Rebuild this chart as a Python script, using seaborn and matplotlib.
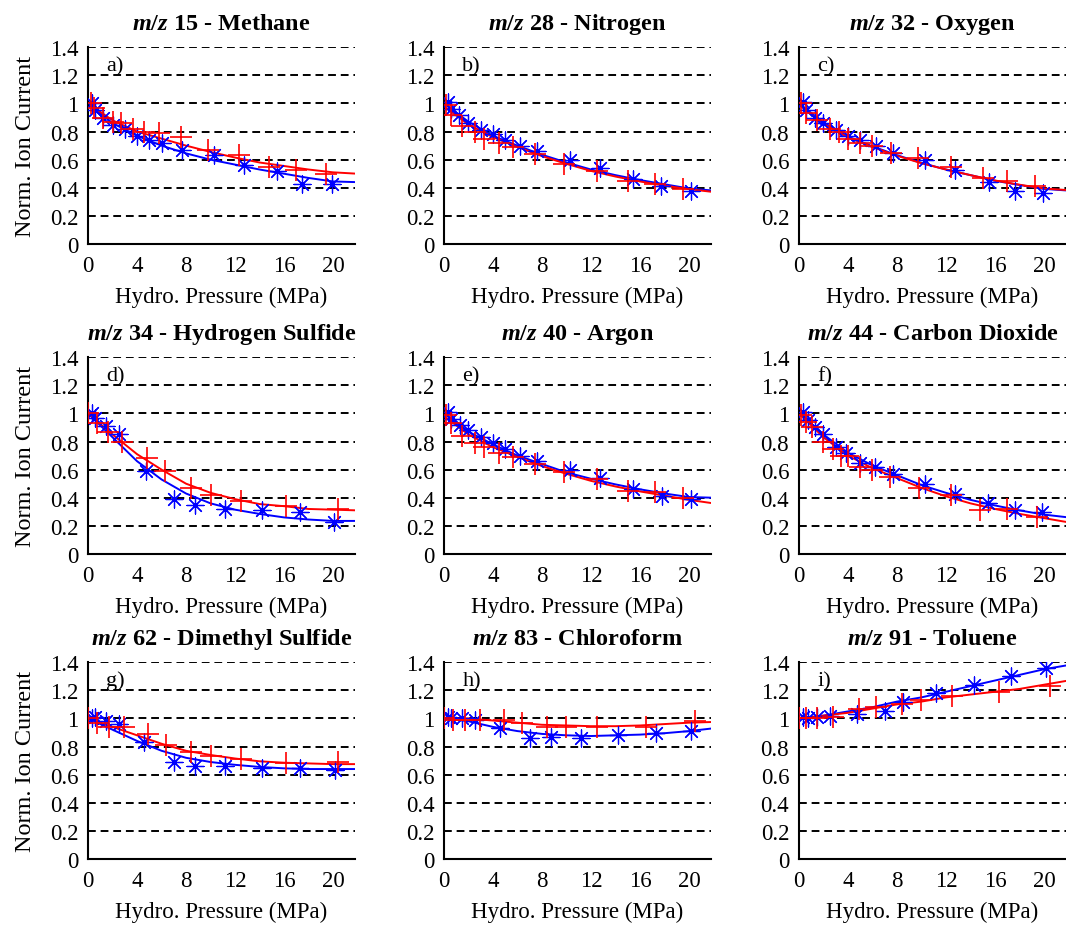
import matplotlib
matplotlib.use("Agg")
import matplotlib.pyplot as plt
import seaborn as sns

# panel titles and letters
titles = ["15 - Methane", "28 - Nitrogen", "32 - Oxygen",
          "34 - Hydrogen Sulfide", "40 - Argon", "44 - Carbon Dioxide",
          "62 - Dimethyl Sulfide", "83 - Chloroform", "91 - Toluene"]
letters = ["a)", "b)", "c)", "d)", "e)", "f)", "g)", "h)", "i)"]

fit_x = [0, 2, 4, 6, 8, 10, 12, 14, 16, 18, 20, 22]

# a) methane
blue_x_a = [0.3, 0.6, 1.2, 2, 3, 4, 5, 6, 7.7, 10.3, 12.7, 15.4, 17.5, 19.9]
blue_y_a = [1.0, 0.95, 0.9, 0.85, 0.82, 0.77, 0.74, 0.72, 0.67, 0.63, 0.56, 0.52, 0.43, 0.43]
red_x_a = [0.2, 0.5, 1.2, 2, 2.7, 3.7, 4.6, 5.8, 7.6, 9.8, 12.3, 14.8, 17, 19.4]
red_y_a = [1.0, 0.97, 0.9, 0.87, 0.86, 0.82, 0.8, 0.79, 0.76, 0.67, 0.63, 0.55, 0.53, 0.5]
fit_blue_a = [1.0, 0.86, 0.77, 0.7, 0.645, 0.6, 0.565, 0.53, 0.5, 0.47, 0.445, 0.44]
fit_red_a = [1.0, 0.88, 0.8, 0.75, 0.7, 0.655, 0.615, 0.58, 0.555, 0.53, 0.51, 0.5]

# b) nitrogen
blue_x_b = [0.3, 0.6, 1.2, 2, 3, 4, 5, 6.2, 7.6, 10.3, 12.7, 15.4, 17.7, 20.2]
blue_y_b = [1.01, 0.96, 0.92, 0.86, 0.81, 0.78, 0.74, 0.7, 0.66, 0.6, 0.54, 0.46, 0.41, 0.38]
red_x_b = [0.2, 0.6, 1.5, 2.5, 3.3, 4.5, 5.6, 7.4, 9.8, 12.5, 15, 17.2, 19.5]
red_y_b = [0.99, 0.92, 0.84, 0.8, 0.75, 0.72, 0.69, 0.64, 0.57, 0.52, 0.45, 0.43, 0.39]
fit_blue_b = [1.0, 0.87, 0.77, 0.7, 0.635, 0.58, 0.53, 0.49, 0.455, 0.425, 0.395, 0.38]
fit_red_b = [0.98, 0.85, 0.76, 0.69, 0.625, 0.57, 0.52, 0.48, 0.445, 0.415, 0.39, 0.37]

# c) oxygen
blue_x_c = [0.3, 0.6, 1.3, 2, 3, 4, 5, 6.3, 7.7, 10.3, 12.7, 15.5, 17.6, 19.9]
blue_y_c = [1.01, 0.95, 0.9, 0.86, 0.81, 0.77, 0.74, 0.7, 0.65, 0.6, 0.53, 0.44, 0.38, 0.36]
red_x_c = [0.2, 0.6, 1.5, 2.5, 3.3, 4, 5, 6, 7.5, 9.7, 12.4, 15, 17, 19.3]
red_y_c = [1.0, 0.93, 0.88, 0.82, 0.8, 0.75, 0.72, 0.7, 0.65, 0.61, 0.55, 0.47, 0.45, 0.41]
fit_blue_c = [1.0, 0.865, 0.765, 0.695, 0.632, 0.577, 0.53, 0.49, 0.45, 0.42, 0.392, 0.38]
fit_red_c = [0.99, 0.855, 0.758, 0.69, 0.628, 0.575, 0.53, 0.49, 0.452, 0.422, 0.395, 0.383]

# d) hydrogen sulfide
blue_x_d = [0.3, 0.6, 1.5, 2.5, 4.7, 7, 8.7, 11.2, 14.2, 17.3, 20.1]
blue_y_d = [1.0, 0.97, 0.91, 0.85, 0.59, 0.39, 0.35, 0.32, 0.31, 0.3, 0.23]
red_x_d = [0, 0.7, 1.6, 2.8, 4.8, 6.3, 8.4, 10, 12.5, 16.2, 20.4]
red_y_d = [1.0, 0.93, 0.87, 0.8, 0.68, 0.59, 0.47, 0.42, 0.38, 0.34, 0.32]
fit_blue_d = [1.0, 0.83, 0.66, 0.53, 0.43, 0.36, 0.315, 0.285, 0.26, 0.245, 0.235, 0.235]
fit_red_d = [1.0, 0.85, 0.71, 0.6, 0.5, 0.435, 0.39, 0.355, 0.34, 0.32, 0.315, 0.31]

# e) argon
blue_x_e = [0.3, 0.6, 1.3, 2, 3, 4, 5, 6.2, 7.6, 10.3, 12.7, 15.4, 17.8, 20.2]
blue_y_e = [1.01, 0.96, 0.92, 0.88, 0.83, 0.79, 0.75, 0.7, 0.66, 0.6, 0.54, 0.46, 0.41, 0.39]
red_x_e = [0.2, 0.6, 1.5, 2.5, 3.3, 4.5, 5.6, 7.4, 9.8, 12.5, 15, 17.2, 19.5]
red_y_e = [0.99, 0.93, 0.84, 0.79, 0.76, 0.72, 0.69, 0.64, 0.58, 0.53, 0.45, 0.44, 0.4]
fit_blue_e = [1.0, 0.87, 0.78, 0.7, 0.64, 0.58, 0.535, 0.495, 0.46, 0.43, 0.405, 0.4]
fit_red_e = [0.98, 0.85, 0.76, 0.69, 0.625, 0.57, 0.52, 0.48, 0.445, 0.415, 0.385, 0.36]

# f) carbon dioxide
blue_x_f = [0.3, 0.7, 1.3, 2, 3, 3.8, 5, 6.2, 7.7, 10.3, 12.7, 15.4, 17.6, 19.8]
blue_y_f = [1.01, 0.95, 0.9, 0.85, 0.76, 0.72, 0.65, 0.62, 0.57, 0.5, 0.43, 0.36, 0.31, 0.3]
red_x_f = [0.2, 0.6, 1.1, 2, 2.8, 3.4, 4, 5, 6, 7.4, 9.8, 12.4, 14.8, 17, 19.4]
red_y_f = [0.99, 0.94, 0.9, 0.8, 0.75, 0.7, 0.7, 0.62, 0.6, 0.55, 0.47, 0.42, 0.31, 0.32, 0.26]
fit_blue_f = [1.0, 0.85, 0.72, 0.63, 0.56, 0.49, 0.435, 0.385, 0.345, 0.31, 0.28, 0.26]
fit_red_f = [1.0, 0.83, 0.7, 0.61, 0.54, 0.47, 0.41, 0.36, 0.32, 0.285, 0.255, 0.225]

# g) dimethyl sulfide
blue_x_g = [0.3, 0.6, 1.5, 2.5, 4.6, 7, 8.7, 11.2, 14.2, 17.3, 20.2]
blue_y_g = [1.0, 1.01, 0.98, 0.96, 0.83, 0.69, 0.66, 0.66, 0.65, 0.65, 0.63]
red_x_g = [0, 0.7, 1.7, 2.9, 4.9, 6.4, 8.4, 10, 12.5, 16.2, 20.4]
red_y_g = [1.0, 0.97, 0.94, 0.94, 0.89, 0.81, 0.76, 0.73, 0.71, 0.68, 0.69]
fit_blue_g = [1.0, 0.92, 0.84, 0.77, 0.72, 0.69, 0.67, 0.655, 0.645, 0.64, 0.64, 0.64]
fit_red_g = [1.0, 0.94, 0.88, 0.82, 0.77, 0.74, 0.715, 0.695, 0.685, 0.68, 0.675, 0.675]

# h) chloroform
blue_x_h = [0.3, 0.6, 1.5, 2.5, 4.6, 7, 8.7, 11.2, 14.2, 17.3, 20.2]
blue_y_h = [1.01, 1.0, 1.0, 0.99, 0.93, 0.86, 0.87, 0.86, 0.88, 0.9, 0.91]
red_x_h = [0, 0.7, 1.7, 2.9, 4.9, 6.4, 8.4, 10, 12.5, 16.5, 20.5]
red_y_h = [1.0, 0.99, 0.99, 0.99, 0.99, 0.97, 0.94, 0.94, 0.94, 0.94, 0.98]
fit_blue_h = [1.0, 0.98, 0.94, 0.91, 0.89, 0.88, 0.875, 0.88, 0.885, 0.895, 0.91, 0.93]
fit_red_h = [1.0, 1.0, 0.985, 0.97, 0.955, 0.95, 0.945, 0.945, 0.95, 0.96, 0.97, 0.975]

# i) toluene
blue_x_i = [0.3, 0.7, 1.5, 2.5, 4.7, 7, 8.5, 11.2, 14.3, 17.3, 20.2]
blue_y_i = [1.01, 1.0, 1.01, 1.02, 1.03, 1.05, 1.12, 1.18, 1.24, 1.3, 1.36]
red_x_i = [0, 0.6, 1.5, 2.8, 4.9, 6.3, 8.4, 10, 12.5, 16.3, 20.5]
red_y_i = [1.0, 1.0, 1.0, 1.01, 1.07, 1.08, 1.1, 1.13, 1.16, 1.19, 1.23]
fit_blue_i = [1.0, 1.02, 1.05, 1.08, 1.12, 1.15, 1.19, 1.23, 1.27, 1.31, 1.35, 1.38]
fit_red_i = [1.0, 1.02, 1.04, 1.07, 1.1, 1.12, 1.15, 1.17, 1.19, 1.21, 1.24, 1.27]

blue_x = [blue_x_a, blue_x_b, blue_x_c, blue_x_d, blue_x_e, blue_x_f, blue_x_g, blue_x_h, blue_x_i]
blue_y = [blue_y_a, blue_y_b, blue_y_c, blue_y_d, blue_y_e, blue_y_f, blue_y_g, blue_y_h, blue_y_i]
red_x = [red_x_a, red_x_b, red_x_c, red_x_d, red_x_e, red_x_f, red_x_g, red_x_h, red_x_i]
red_y = [red_y_a, red_y_b, red_y_c, red_y_d, red_y_e, red_y_f, red_y_g, red_y_h, red_y_i]
fit_blue = [fit_blue_a, fit_blue_b, fit_blue_c, fit_blue_d, fit_blue_e, fit_blue_f, fit_blue_g, fit_blue_h, fit_blue_i]
fit_red = [fit_red_a, fit_red_b, fit_red_c, fit_red_d, fit_red_e, fit_red_f, fit_red_g, fit_red_h, fit_red_i]

y_ticks = [0, 0.2, 0.4, 0.6, 0.8, 1.0, 1.2, 1.4]
y_tick_labels = ["0", "0.2", "0.4", "0.6", "0.8", "1", "1.2", "1.4"]
x_ticks = [0, 4, 8, 12, 16, 20]

sns.set_theme(style="white")
plt.rcParams["font.family"] = ["Liberation Serif", "DejaVu Serif"]
plt.rcParams["mathtext.fontset"] = "custom"
plt.rcParams["mathtext.it"] = "Liberation Serif:italic:bold"
plt.rcParams["mathtext.rm"] = "Liberation Serif:bold"
plt.rcParams["text.color"] = "black"
plt.rcParams["axes.labelcolor"] = "black"

fig = plt.figure(figsize=(10.66, 9.28), dpi=100)

col_left = [0.0826, 0.4165, 0.7495]
row_bottom = [0.736, 0.402, 0.0733]
w, h = 0.2505, 0.212

asterisk = (8, 2, 0)

for i in range(9):
    r, c = divmod(i, 3)
    ax = fig.add_axes([col_left[c], row_bottom[r], w, h])

    # dashed horizontal grid
    for yv in y_ticks[1:]:
        ax.axhline(yv, color="black", ls=(0, (4, 2.5)), lw=1.4, zorder=0)

    sns.lineplot(x=fit_x, y=fit_blue[i], color="blue", lw=1.4, ax=ax)
    sns.lineplot(x=fit_x, y=fit_red[i], color="red", lw=1.4, ax=ax)
    sns.scatterplot(x=blue_x[i], y=blue_y[i], marker=asterisk, s=150,
                    color="blue", linewidth=0.9, ax=ax, zorder=3)
    sns.scatterplot(x=red_x[i], y=red_y[i], marker="+", s=240,
                    color="red", linewidth=1.2, ax=ax, zorder=3)

    ax.set_xlim(0, 21.8)
    ax.set_ylim(0, 1.4)
    ax.set_xticks(x_ticks)
    ax.set_xticklabels([str(t) for t in x_ticks])
    ax.set_yticks(y_ticks)
    ax.set_yticklabels(y_tick_labels)
    ax.tick_params(axis="both", direction="in", length=4, width=1,
                   labelsize=16.5, colors="black", pad=7)
    ax.tick_params(axis="x", pad=8)

    for side in ["top", "right"]:
        ax.spines[side].set_visible(False)
    for side in ["left", "bottom"]:
        ax.spines[side].set_color("black")
        ax.spines[side].set_linewidth(1.5)

    ax.text(1.5, 1.27, letters[i], fontsize=16, va="center", ha="left")
    ax.set_title(r"$\mathit{m/z}$ " + titles[i], fontsize=17.5,
                 fontweight="bold", pad=13)
    ax.set_xlabel("Hydro. Pressure (MPa)", fontsize=16.5, labelpad=7)
    if c == 0:
        ax.set_ylabel("Norm. Ion Current", fontsize=17.5, labelpad=10)
    else:
        ax.set_ylabel("")

fig.savefig("out.png", dpi=100, facecolor="white")
